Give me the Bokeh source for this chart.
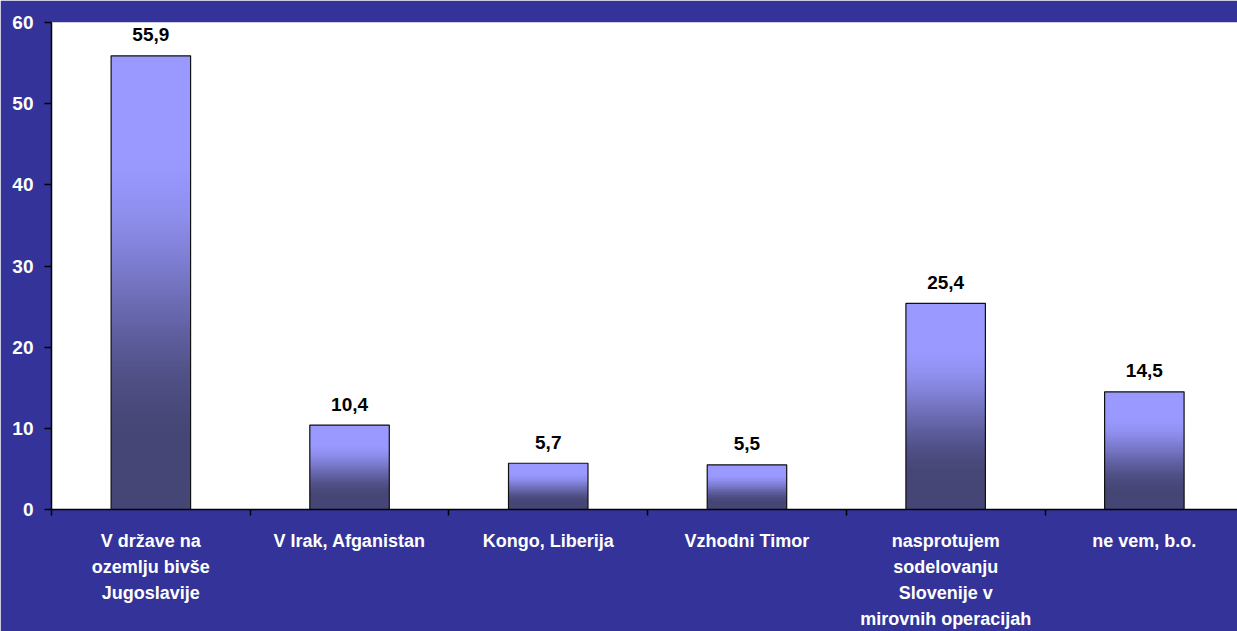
from bokeh.plotting import figure
from bokeh.models import Range1d, FixedTicker, ColumnDataSource, LinearAxis
from bokeh.core.properties import value
from bokeh.embed import file_html
from bokeh.resources import INLINE

categories = [
    ["V države na", "ozemlju bivše", "Jugoslavije"],
    ["V Irak, Afganistan"],
    ["Kongo, Liberija"],
    ["Vzhodni Timor"],
    ["nasprotujem", "sodelovanju", "Slovenije v", "mirovnih operacijah"],
    ["ne vem, b.o."],
]
values = [55.9, 10.4, 5.7, 5.5, 25.4, 14.5]
value_labels = ["55,9", "10,4", "5,7", "5,5", "25,4", "14,5"]
y_ticks = [0, 10, 20, 30, 40, 50, 60]

BG = "#333399"
FONT = "Liberation Sans"
TOP_COLOR = (0x99, 0x99, 0xFF)
BOTTOM_COLOR = (0x46, 0x46, 0x76)

W, H = 1237, 631
px_per_cat = 198.7
frame_w = W - 51
p = figure(width=W, height=H, output_backend="svg", toolbar_location=None,
           x_range=Range1d(0, frame_w / px_per_cat), y_range=Range1d(0, 60),
           min_border_left=51, min_border_right=0, min_border_top=22,
           min_border_bottom=122)
p.background_fill_color = "white"
p.border_fill_color = BG
p.outline_line_color = None
p.grid.grid_line_color = None

centers = [i + 0.5 for i in range(len(values))]
bar_w = 0.4
ppu = 487 / 60.0

# gradient bars built from stacked slices (about 2 px each)
xs, bots, tops, cols = [], [], [], []
for c, v in zip(centers, values):
    N = max(3, int(v * ppu / 2))
    for k in range(N):
        t = 1 - (k + 0.5) / N  # 0 at top, 1 at bottom
        s = min(max((t - 0.2) / 0.65, 0), 1)
        s = s * s * (3 - 2 * s)
        col = tuple(int(round(TOP_COLOR[j] + (BOTTOM_COLOR[j] - TOP_COLOR[j]) * s)) for j in range(3))
        xs.append(c)
        bots.append(v * k / N)
        tops.append(min(v, v * (k + 1.5) / N))
        cols.append("#%02x%02x%02x" % col)
p.vbar(x=xs, bottom=bots, top=tops, width=bar_w, fill_color=cols, line_color=None)
p.vbar(x=centers, top=values, width=bar_w, fill_color=None, line_color="#111111", line_width=1.2)

src = ColumnDataSource(dict(x=centers, y=values, t=value_labels))
p.text(x="x", y="y", text="t", source=src, text_align="center", text_baseline="middle",
       y_offset=-21, text_font=value(FONT), text_font_style="bold", text_font_size="19px",
       text_color="black")

# y axis
yax = p.yaxis[0]
yax.ticker = FixedTicker(ticks=y_ticks, minor_ticks=[])
yax.axis_line_color = "black"
yax.axis_line_width = 1.5
yax.major_tick_line_color = "black"
yax.major_tick_line_width = 1.5
yax.major_tick_out = 7
yax.major_tick_in = 0
yax.minor_tick_line_color = None
yax.major_label_text_color = "white"
yax.major_label_text_font = FONT
yax.major_label_text_font_style = "bold"
yax.major_label_text_font_size = "19px"
yax.major_label_standoff = 11

# x axes: one per text line of the category labels
n_lines = max(len(c) for c in categories)
for row in range(n_lines):
    if row == 0:
        ax = p.xaxis[0]
    else:
        ax = LinearAxis()
        p.add_layout(ax, "below")
    ax.ticker = FixedTicker(ticks=centers,
                            minor_ticks=list(range(len(values))) if row == 0 else [])
    ax.major_label_overrides = {c: (lines[row] if row < len(lines) else " ")
                                for c, lines in zip(centers, categories)}
    ax.axis_line_color = "black" if row == 0 else None
    ax.axis_line_width = 1.5
    ax.major_tick_line_color = None
    ax.major_tick_out = 0
    ax.major_tick_in = 0
    ax.minor_tick_line_color = "black" if row == 0 else None
    ax.minor_tick_line_width = 1.5
    ax.minor_tick_out = 6
    ax.minor_tick_in = 0
    ax.major_label_text_color = "white"
    ax.major_label_text_font = FONT
    ax.major_label_text_font_style = "bold"
    ax.major_label_text_font_size = "18px"
    ax.major_label_standoff = 15 if row == 0 else 3

open("out.html", "w").write(file_html(p, INLINE))
